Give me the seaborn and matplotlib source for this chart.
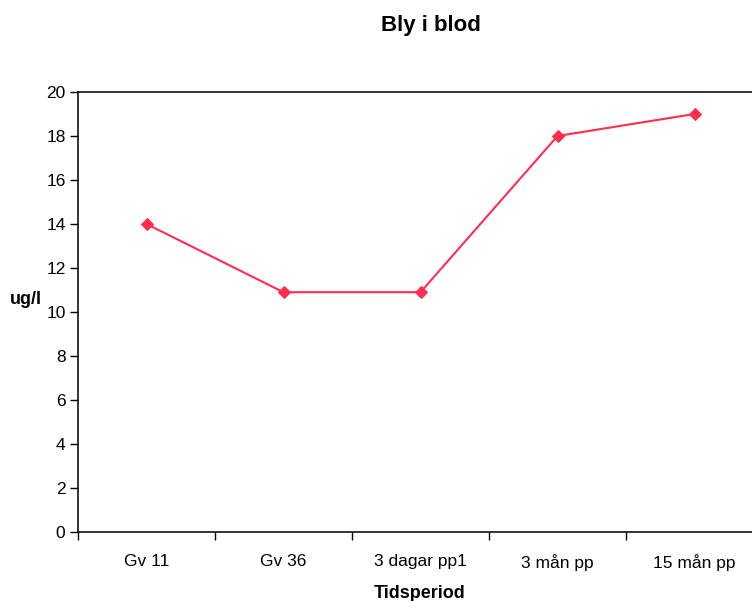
import matplotlib
matplotlib.use("Agg")
import matplotlib.pyplot as plt
import seaborn as sns
import pandas as pd

periods = ["Gv 11", "Gv 36", "3 dagar pp1", "3 mån pp", "15 mån pp"]
lead_values = [14, 10.9, 10.9, 18, 19]

sns.set_style("white")
plt.rcParams["font.family"] = ["Liberation Sans", "DejaVu Sans"]
plt.rcParams["text.color"] = "black"
plt.rcParams["xtick.color"] = "black"
plt.rcParams["ytick.color"] = "black"

df = pd.DataFrame({"period": periods, "value": lead_values})
df["pos"] = range(len(periods))

fig = plt.figure(figsize=(7.52, 6.01), dpi=100)
ax = fig.add_axes([78 / 752, 1 - 532 / 601, (763 - 78) / 752, (532 - 92) / 601])

sns.lineplot(data=df, x="pos", y="value", ax=ax, color="#ff2d4f",
             linewidth=1.5, marker="D", markersize=6,
             markeredgecolor="#ff2d4f", markerfacecolor="#ff2d4f")

ax.set_xlim(-0.5, len(periods) - 0.5)
ax.set_ylim(0, 20)
ax.set_yticks(range(0, 21, 2))
ax.tick_params(axis="y", labelsize=12.5, length=6, width=1, direction="out",
               left=True, pad=3)

# category boundaries carry the tick marks, labels sit at the centres
ax.set_xticks([i - 0.5 for i in range(len(periods))])
ax.set_xticklabels([])
ax.set_xticks(range(len(periods)), minor=True)
ax.set_xticklabels(periods, minor=True)
ax.tick_params(axis="x", which="major", length=6, width=1, direction="out", bottom=True)
ax.tick_params(axis="x", which="minor", length=0, labelsize=12.5, pad=16)

for side in ["left", "bottom", "top"]:
    ax.spines[side].set_visible(True)
    ax.spines[side].set_color("#111111")
    ax.spines[side].set_linewidth(1.2)
ax.spines["right"].set_visible(False)

ax.set_xlabel("")
ax.set_ylabel("")
fig.text(431 / 752, 1 - 25 / 601, "Bly i blod", ha="center", va="center",
         fontsize=16, fontweight="bold")
fig.text(10 / 752, 1 - 300 / 601, "ug/l", ha="left", va="center",
         fontsize=13, fontweight="bold")
fig.text(420 / 752, 1 - 594 / 601, "Tidsperiod", ha="center", va="center",
         fontsize=13, fontweight="bold")

fig.savefig("out.png", dpi=100)
